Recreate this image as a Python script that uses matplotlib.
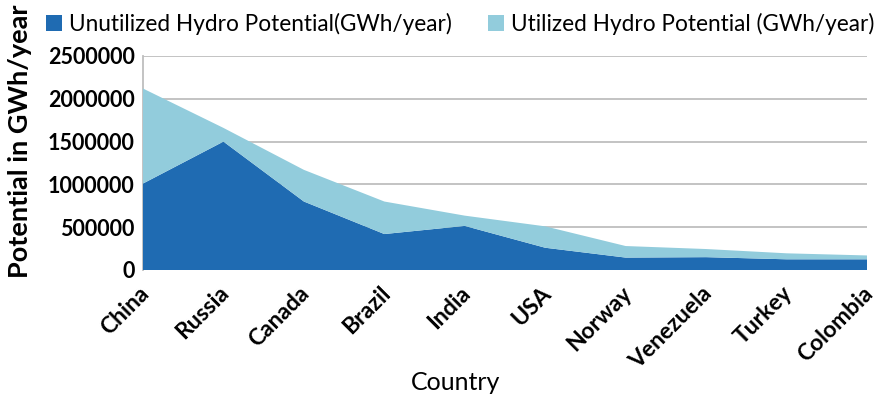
import matplotlib
matplotlib.use("Agg")
import matplotlib.pyplot as plt
from matplotlib.patches import Patch
from matplotlib.transforms import ScaledTranslation
import numpy as np

# Hydro potential by country (GWh/year)
countries = ["China", "Russia", "Canada", "Brazil", "India",
             "USA", "Norway", "Venezuela", "Turkey", "Colombia"]
unutilized = [1010000, 1500000, 800000, 420000, 515000,
              260000, 145000, 150000, 125000, 125000]
utilized = [1110000, 160000, 370000, 380000, 120000,
            250000, 135000, 95000, 70000, 45000]
y_ticks = [0, 500000, 1000000, 1500000, 2000000, 2500000]
series_names = ["Unutilized Hydro Potential(GWh/year)",
                "Utilized Hydro Potential (GWh/year)"]

DARK = "#1F6BB2"
LIGHT = "#92CCDC"
GRID = "#BEBEBE"
FONT = "Lato"

W, H = 881, 396
fig = plt.figure(figsize=(W / 100, H / 100), dpi=100)
ax = fig.add_axes([143 / W, 1 - 270 / H, (867 - 143) / W, (270 - 56) / H])

x = np.arange(len(countries))
ax.stackplot(x, unutilized, utilized, colors=[DARK, LIGHT], linewidth=0)

ax.set_xlim(0, len(countries) - 1)
ax.set_ylim(0, y_ticks[-1])
ax.set_yticks(y_ticks)
ax.set_yticklabels([str(v) for v in y_ticks], fontfamily=FONT,
                   fontweight="bold", fontsize=15.5)
ax.yaxis.grid(True, color=GRID, linewidth=1.3)
ax.set_axisbelow(True)

for side in ("top", "right", "bottom"):
    ax.spines[side].set_visible(False)
ax.spines["left"].set_color(GRID)
ax.spines["left"].set_linewidth(1.3)
ax.spines["left"].set_zorder(0.6)

ax.tick_params(axis="both", length=0)
ax.tick_params(axis="y", pad=6)
ax.tick_params(axis="x", pad=9)

ax.set_xticks(x)
ax.set_xticklabels(countries, rotation=45, ha="right", va="top",
                   rotation_mode="anchor", fontfamily=FONT,
                   fontweight="bold", fontsize=16.5)
shift = ScaledTranslation(-5 / 100, 0, fig.dpi_scale_trans)
for lbl in ax.get_xticklabels():
    lbl.set_transform(lbl.get_transform() + shift)

fig.text(456 / W, 1 - 382 / H, "Country", ha="center", va="center",
         fontfamily=FONT, fontsize=18)
fig.text(20 / W, 1 - 141 / H, "Potential in GWh/year", rotation=90,
         ha="center", va="center", fontfamily=FONT, fontweight="bold",
         fontsize=19.5)

handles = [Patch(facecolor=DARK), Patch(facecolor=LIGHT)]
fig.legend(handles, series_names, loc="upper left",
           bbox_to_anchor=(34 / W, 1.0), ncol=2, frameon=False,
           handlelength=0.7, handleheight=0.7, handletextpad=0.3,
           columnspacing=1.6, borderaxespad=0.15,
           prop={"family": FONT, "size": 16.3})

fig.savefig("out.png", dpi=100)
